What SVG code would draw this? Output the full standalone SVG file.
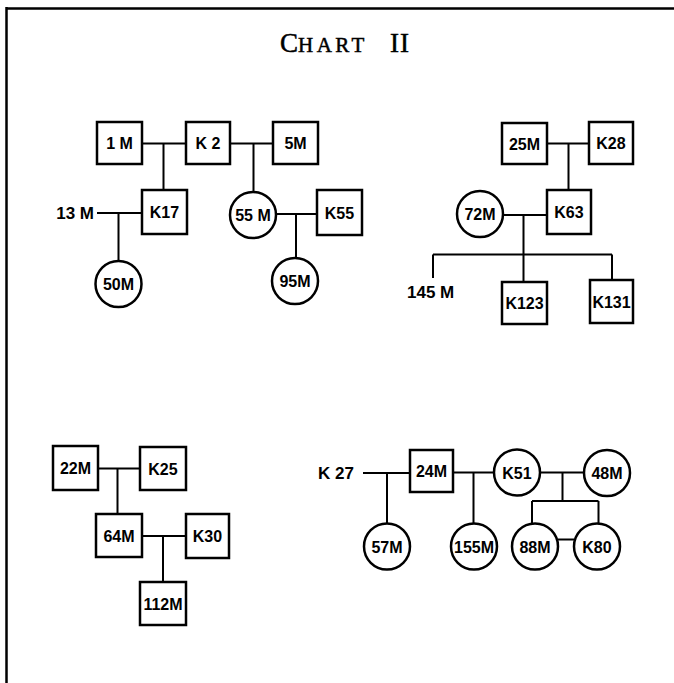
<svg xmlns="http://www.w3.org/2000/svg" width="674" height="683" viewBox="0 0 674 683">
<style>
.b{fill:#fff;stroke:#000;stroke-width:2.5}
.c{fill:none;stroke:#000;stroke-width:2}
.t{font-family:"Liberation Sans",Arial,sans-serif;font-weight:bold;font-size:16px;text-anchor:middle;fill:#000}
.o{font-family:"Liberation Sans",Arial,sans-serif;font-weight:bold;font-size:17px;fill:#000}
.h{font-family:"Liberation Serif","Times New Roman",serif;fill:#000;stroke:#000;stroke-width:0.5}
</style>
<rect width="674" height="683" fill="#fff"/>
<path d="M6,8.5 H674 M6.5,7 V683" fill="none" stroke="#000" stroke-width="2.5"/>
<text class="h" y="52"><tspan x="280" font-size="27">C</tspan><tspan x="298" font-size="21" letter-spacing="3.5">HART</tspan><tspan x="390" font-size="27" letter-spacing="1">II</tspan></text>
<g id="connectors" class="c">
<path d="M142,143.5 H186 M163.5,143.5 V190"/>
<path d="M230,143.5 H273 M253.5,143.5 V192"/>
<path d="M97,213 H142 M118.5,213 V261"/>
<path d="M276,214 H317 M296,214 V258"/>
<path d="M547,143.5 H589 M568.5,143.5 V190"/>
<path d="M503,215 H547 M523.5,215 V282"/>
<path d="M433,254.5 H612 M433,254.5 V278 M612,254.5 V280"/>
<path d="M98,468.5 H140 M117.5,468.5 V514"/>
<path d="M142,536 H186 M163,536 V582"/>
<path d="M363,473 H410 M387,473 V523.5"/>
<path d="M453,472.5 H494 M473.5,472.5 V523.5"/>
<path d="M540,472.5 H584 M562.5,472.5 V501 M532,501 H598.5 M532,501 V523.5 M598.5,501 V523.5"/>
<path d="M558,539.5 H574"/>
</g>
<g id="n1M"><rect class="b" x="97" y="122" width="45" height="42"/><text class="t" x="119.5" y="149">1 M</text></g>
<g id="nK2"><rect class="b" x="186" y="122" width="44" height="42"/><text class="t" x="208" y="149">K 2</text></g>
<g id="n5M"><rect class="b" x="273" y="122" width="45" height="42"/><text class="t" x="295.5" y="149">5M</text></g>
<g id="nK17"><rect class="b" x="142" y="190" width="45" height="44"/><text class="t" x="164.5" y="218">K17</text></g>
<g id="n13M"><text class="o" x="94" y="219" text-anchor="end">13 M</text></g>
<g id="n50M"><circle class="b" cx="118.5" cy="284" r="23"/><text class="t" x="118.5" y="290">50M</text></g>
<g id="n55M"><circle class="b" cx="253" cy="215" r="23"/><text class="t" x="253" y="221">55 M</text></g>
<g id="nK55"><rect class="b" x="317" y="190" width="45" height="45"/><text class="t" x="339.5" y="218.5">K55</text></g>
<g id="n95M"><circle class="b" cx="295" cy="281" r="23"/><text class="t" x="295" y="287">95M</text></g>
<g id="n25M"><rect class="b" x="502" y="123" width="45" height="41"/><text class="t" x="524.5" y="149.5">25M</text></g>
<g id="nK28"><rect class="b" x="589" y="122" width="44" height="42"/><text class="t" x="611" y="149">K28</text></g>
<g id="nK63"><rect class="b" x="547" y="190" width="44" height="44"/><text class="t" x="569" y="218">K63</text></g>
<g id="n72M"><circle class="b" cx="480" cy="214" r="23"/><text class="t" x="480" y="220">72M</text></g>
<g id="n145M"><text class="o" x="407" y="298">145 M</text></g>
<g id="nK123"><rect class="b" x="502" y="282" width="45" height="42"/><text class="t" x="524.5" y="309">K123</text></g>
<g id="nK131"><rect class="b" x="590" y="280" width="43" height="43"/><text class="t" x="611.5" y="307.5">K131</text></g>
<g id="n22M"><rect class="b" x="53" y="446" width="45" height="44"/><text class="t" x="75.5" y="474">22M</text></g>
<g id="nK25"><rect class="b" x="140" y="447" width="46" height="43"/><text class="t" x="163" y="474.5">K25</text></g>
<g id="n64M"><rect class="b" x="96" y="514" width="46" height="43"/><text class="t" x="119" y="541.5">64M</text></g>
<g id="nK30"><rect class="b" x="186" y="514" width="43" height="44"/><text class="t" x="207.5" y="542">K30</text></g>
<g id="n112M"><rect class="b" x="140" y="582" width="46" height="43"/><text class="t" x="163" y="609.5">112M</text></g>
<g id="nK27"><text class="o" x="318" y="479">K 27</text></g>
<g id="n24M"><rect class="b" x="410" y="450" width="43" height="42"/><text class="t" x="431.5" y="477">24M</text></g>
<g id="nK51"><circle class="b" cx="517" cy="472.5" r="23"/><text class="t" x="517" y="478.5">K51</text></g>
<g id="n48M"><circle class="b" cx="607" cy="473" r="23"/><text class="t" x="607" y="479">48M</text></g>
<g id="n57M"><circle class="b" cx="387" cy="546.5" r="23"/><text class="t" x="387" y="552.5">57M</text></g>
<g id="n155M"><circle class="b" cx="474" cy="546.5" r="23"/><text class="t" x="474" y="552.5">155M</text></g>
<g id="n88M"><circle class="b" cx="535" cy="546.5" r="23"/><text class="t" x="535" y="552.5">88M</text></g>
<g id="nK80"><circle class="b" cx="597" cy="546.5" r="23"/><text class="t" x="597" y="552.5">K80</text></g>
</svg>
